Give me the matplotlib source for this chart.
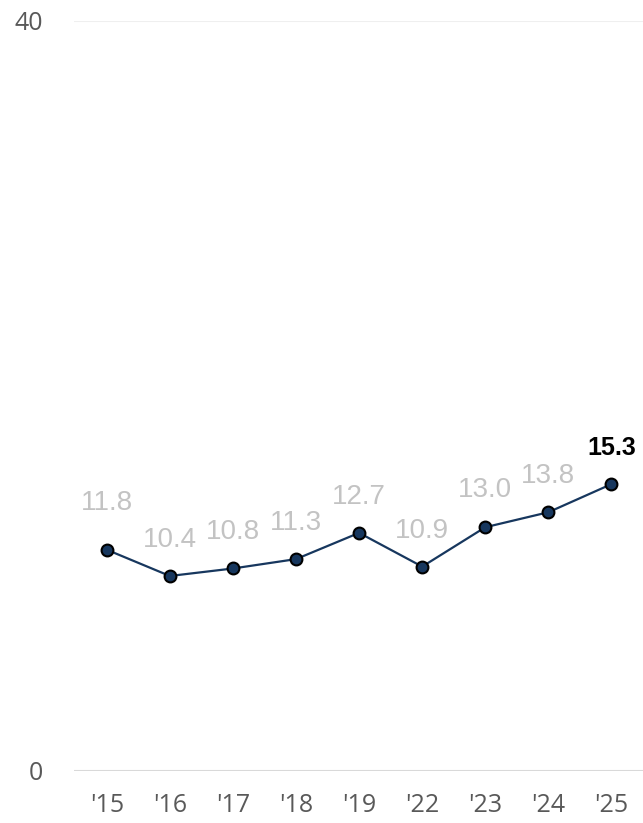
import matplotlib
matplotlib.use("Agg")
import matplotlib.pyplot as plt

years = ["'15", "'16", "'17", "'18", "'19", "'22", "'23", "'24", "'25"]
values = [11.8, 10.4, 10.8, 11.3, 12.7, 10.9, 13.0, 13.8, 15.3]
yticks = [0, 40]

label_offsets = [34, 26, 26, 26, 26, 26, 27, 26, 26]  # points, label above marker

fig = plt.figure(figsize=(6.43, 8.23), dpi=100)
ax = fig.add_axes([0.115, 0.0632, 0.885, 0.9113])

x = list(range(len(years)))
ax.plot(x, values, color="#17375e", lw=1.6, zorder=3,
        marker="o", markersize=8.5, markerfacecolor="#17375e",
        markeredgecolor="black", markeredgewidth=1.5)

for i, v in enumerate(values):
    last = i == len(values) - 1
    ax.annotate(f"{v:.1f}", (i, v), xytext=(0, label_offsets[i]),
                textcoords="offset points", ha="center", va="center",
                fontsize=20 if not last else 18,
                fontweight="bold" if last else "normal",
                color="black" if last else "#c3c3c3",
                family="Liberation Sans")

ax.set_xlim(-0.52, 8.5)
ax.set_ylim(0, 40)
ax.set_yticks(yticks)
ax.set_yticklabels([str(t) for t in yticks])
ax.set_xticks(x)
ax.set_xticklabels(years)
ax.axhline(40, color="#efefef", lw=1.5, zorder=1)
ax.axhline(0, color="#d9d9d9", lw=1.5, zorder=1)

for s in ax.spines.values():
    s.set_visible(False)
ax.tick_params(axis="both", length=0, labelsize=18, labelcolor="#595959")
ax.tick_params(axis="y", pad=22)
ax.tick_params(axis="x", pad=16)
for t in ax.get_xticklabels() + ax.get_yticklabels():
    t.set_family("Open Sans")

fig.savefig("out.png", dpi=100, facecolor="white")
